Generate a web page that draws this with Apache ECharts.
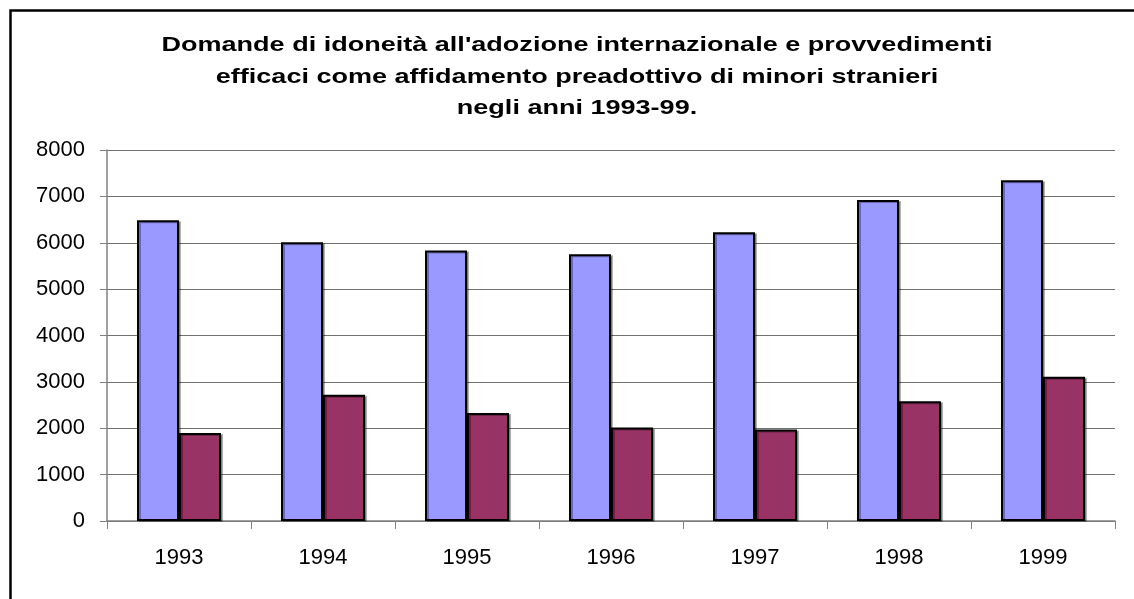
<!DOCTYPE html>
<html>
<head>
<meta charset="utf-8">
<script src="https://cdn.jsdelivr.net/npm/echarts@6/dist/echarts.min.js"></script>
<style>
html,body{margin:0;padding:0;background:#fff;}
#c{width:1134px;height:599px;}
</style>
</head>
<body>
<div id="c"></div>
<script>
var categories = ['1993','1994','1995','1996','1997','1998','1999'];
var domande = [6485, 6010, 5835, 5750, 6225, 6920, 7350];
var provvedimenti = [1900, 2720, 2330, 2015, 1975, 2580, 3110];
var titleLines = ["Domande di idoneità all'adozione internazionale e provvedimenti",
                  "efficaci come affidamento preadottivo di minori stranieri",
                  "negli anni 1993-99."];

var titleFont = 'bold 21px "Liberation Sans", Arial, sans-serif';
var mctx = document.createElement('canvas').getContext('2d');
mctx.font = titleFont;
var w1 = mctx.measureText(titleLines[0]).width;
var titleScale = 831 / w1;

var chart = echarts.init(document.getElementById('c'), null, {renderer:'canvas'});
chart.setOption({
  animation:false,
  backgroundColor:'#fff',
  graphic:[{
    type:'rect', left:8, top:8, z:100,
    shape:{x:0,y:0,width:1140,height:600},
    style:{fill:'none', stroke:'#000', lineWidth:2.5}
  },{
    type:'text', x:577, y:77, scaleX:titleScale, scaleY:1,
    style:{text:titleLines.join('\n'), font:titleFont, fill:'#000',
      align:'center', verticalAlign:'middle', lineHeight:31.5}
  }],
  grid:{left:107, right:19, top:150, bottom:78, containLabel:false},
  xAxis:{
    type:'category', data:categories,
    axisLine:{lineStyle:{color:'#808080', width:1.5}},
    axisTick:{show:true, length:8, lineStyle:{color:'#808080'}},
    axisLabel:{margin:26, fontFamily:'Liberation Sans, Arial', fontSize:22, color:'#000'}
  },
  yAxis:{
    type:'value', min:0, max:8000, interval:1000,
    axisLine:{show:true, lineStyle:{color:'#808080', width:1.5}},
    axisTick:{show:true, length:7, lineStyle:{color:'#808080'}},
    axisLabel:{margin:22, fontFamily:'Liberation Sans, Arial', fontSize:22, color:'#000',
      formatter:function(v){return String(v);}},
    splitLine:{lineStyle:{color:'#707070', width:1}}
  },
  series:[{
    type:'bar', data:domande, barWidth:42, barGap:'0%',
    itemStyle:{color:'#9999FF', borderColor:'#000', borderWidth:2,
      shadowColor:'rgba(0,0,0,0.3)', shadowOffsetX:2, shadowOffsetY:1}
  },{
    type:'bar', data:provvedimenti, barWidth:42, barGap:'0%',
    itemStyle:{color:'#993366', borderColor:'#000', borderWidth:2,
      shadowColor:'rgba(0,0,0,0.3)', shadowOffsetX:2, shadowOffsetY:1}
  }]
});
</script>
</body>
</html>
